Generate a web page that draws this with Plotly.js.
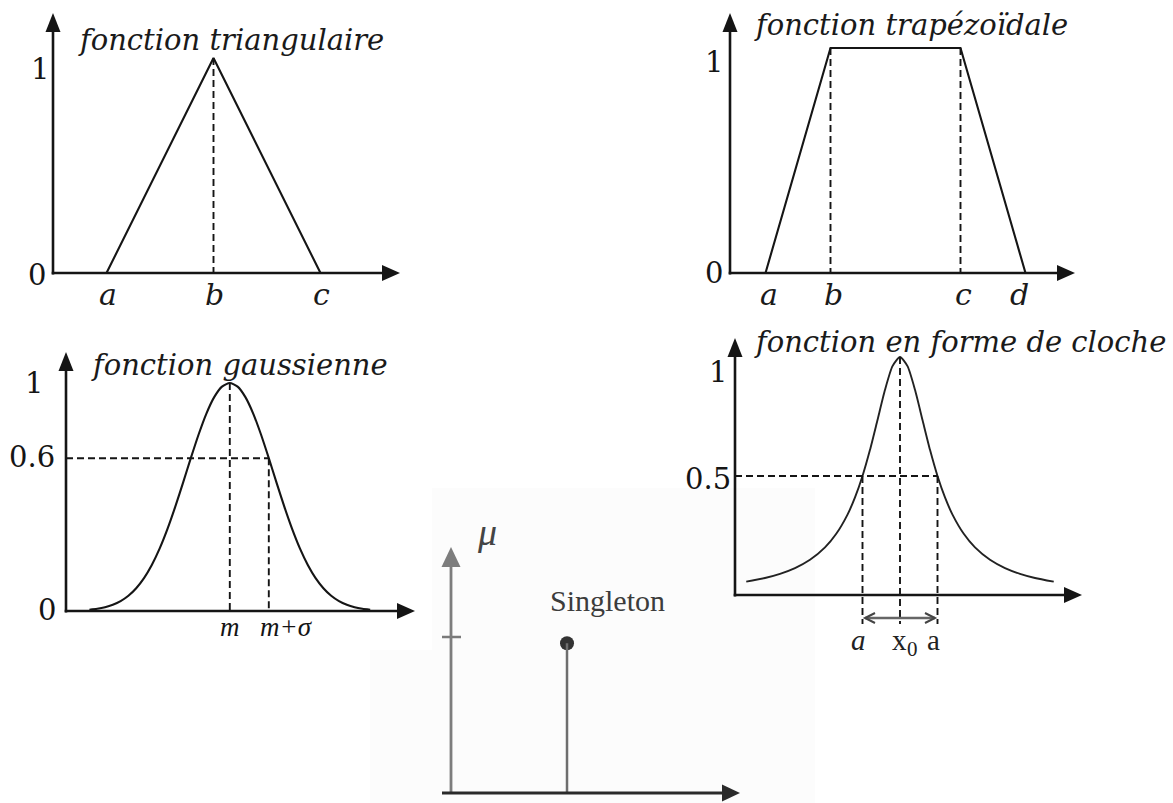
<!DOCTYPE html>
<html><head><meta charset="utf-8">
<script src="https://cdn.plot.ly/plotly-3.0.1.min.js"></script>
<style>html,body{margin:0;padding:0;background:#fff}</style>
</head><body><div id="chart" style="width:1173px;height:803px"></div>
<script>
// ---------- data ----------
const triX = [1, 3, 5];
const triY = [0, 1, 0];
const triLabels = ['a', 'b', 'c'];

const trapX = [1, 3, 7, 9];
const trapY = [0, 1, 1, 0];
const trapLabels = ['a', 'b', 'c', 'd'];

const gaussX = [0.6,0.8,1.0,1.2,1.4,1.6,1.8,2.0,2.2,2.4,2.6,2.8,3.0,3.2,3.4,3.6,3.8,4.0,4.2,4.4,4.6,4.8,5.0,5.2,5.4,5.6,5.8,6.0,6.2,6.4,6.6,6.8,7.0,7.2,7.4,7.6,7.8];
const gaussY = [.0056,.0098,.0166,.0273,.0434,.0669,.0999,.1443,.2019,.2736,.3592,.4566,.5621,.6703,.7741,.8659,.9380,.9841,1,.9841,.9380,.8659,.7741,.6703,.5621,.4566,.3592,.2736,.2019,.1443,.0999,.0669,.0434,.0273,.0166,.0098,.0056];
const gaussM = 4.2, gaussMS = 5.2, gaussLevel = 0.67;
const gaussTicks = ['1', '0.6', '0'];

const bellX = [0.3,0.8,1.2,1.6,2.0,2.4,2.7,3.0,3.2,3.4,3.6,3.8,4.0,4.2,4.4,4.6,4.8,5.0,5.2,5.4,5.6,5.8,6.1,6.4,6.8,7.2,7.6,8.0,8.5];
const bellY = [.0561,.0716,.0890,.1131,.1479,.2,.2571,.3378,.4098,.5,.6098,.7353,.8621,.9615,1,.9615,.8621,.7353,.6098,.5,.4098,.3378,.2571,.2,.1479,.1131,.0890,.0716,.0561];
const bellLeft = 3.4, bellCenter = 4.4, bellRight = 5.4, bellLevel = 0.5;
const bellTicks = ['1', '0.5'];

const singletonX = [3];
const singletonY = [0.96];

const titles = ['fonction triangulaire', 'fonction trapézoïdale', 'fonction gaussienne', 'fonction en forme de cloche'];

// ---------- geometry ----------
const W = 1173, H = 803;
const P = [
  {ox: 53,  oy: 273, sx: 53.5, sy: 215},
  {ox: 733, oy: 273, sx: 32.5, sy: 225},
  {ox: 66,  oy: 611, sx: 39,   sy: 228},
  {ox: 735, oy: 595, sx: 37.5, sy: 238},
  {ox: 451, oy: 793, sx: 38.67, sy: 156}
];
const ax = i => i === 0 ? 'x' : 'x' + (i + 1);
const ay = i => i === 0 ? 'y' : 'y' + (i + 1);
const dy = (i, p) => (P[i].oy - p) / P[i].sy; // pixel -> data y

const layout = {
  width: W, height: H, margin: {l: 0, r: 0, t: 0, b: 0},
  paper_bgcolor: '#fff', plot_bgcolor: 'rgba(0,0,0,0)',
  showlegend: false, shapes: [], annotations: []
};
P.forEach((p, i) => {
  const k = i === 0 ? '' : String(i + 1);
  layout['xaxis' + k] = {domain: [0, 1], range: [(0 - p.ox) / p.sx, (W - p.ox) / p.sx], visible: false, fixedrange: true, anchor: ay(i)};
  layout['yaxis' + k] = {domain: [0, 1], range: [(p.oy - H) / p.sy, p.oy / p.sy], visible: false, fixedrange: true, anchor: ax(i)};
});
// pixel frame for the drawn axes
layout.xaxis6 = {domain: [0, 1], range: [0, W], visible: false, fixedrange: true, anchor: 'y6'};
layout.yaxis6 = {domain: [0, 1], range: [H, 0], visible: false, fixedrange: true, anchor: 'x6'};

const black = '#151515';
const line = (i, x, y, extra) => Object.assign({type: 'scatter', mode: 'lines', x, y, xaxis: ax(i), yaxis: ay(i), hoverinfo: 'skip', cliponaxis: false, line: {color: black, width: 2.1}}, extra || {});
const data = [
  line(0, triX, triY),
  line(1, trapX, trapY),
  line(2, gaussX, gaussY, {line: {color: black, width: 2.1, shape: 'spline', smoothing: 0.6}}),
  line(3, bellX, bellY, {line: {color: '#222', width: 1.9, shape: 'spline', smoothing: 0.6}}),
  {type: 'scatter', mode: 'markers', x: singletonX, y: singletonY, xaxis: 'x5', yaxis: 'y5', hoverinfo: 'skip', cliponaxis: false, marker: {color: '#333', size: 14}}
];

// faint background of the singleton picture (paper-referenced, under everything)
const PX = v => v / W, PY = v => 1 - v / H;
layout.shapes.push({type: 'rect', xref: 'paper', yref: 'paper', x0: PX(432), x1: PX(815), y0: PY(803), y1: PY(488), fillcolor: '#fcfcfc', line: {width: 0}, layer: 'below'});
layout.shapes.push({type: 'rect', xref: 'paper', yref: 'paper', x0: PX(370), x1: PX(432), y0: PY(803), y1: PY(650), fillcolor: '#fcfcfc', line: {width: 0}, layer: 'below'});

const px = (extra) => Object.assign({xref: 'x6', yref: 'y6'}, extra);
const dash = (i, x0, y0, x1, y1) => layout.shapes.push({type: 'line', xref: ax(i), yref: ay(i), x0, y0, x1, y1, line: {color: black, width: 1.9, dash: '7px,4px'}});
dash(0, triX[1], 1, triX[1], 0);
dash(1, trapX[1], 1, trapX[1], 0);
dash(1, trapX[2], 1, trapX[2], 0);
dash(2, gaussM, 1, gaussM, 0);
dash(2, 0, gaussLevel, gaussMS, gaussLevel);
dash(2, gaussMS, gaussLevel, gaussMS, 0);
const below = dy(3, 624);
dash(3, bellLeft, bellLevel, bellLeft, below);
dash(3, bellCenter, 1, bellCenter, below);
dash(3, bellRight, bellLevel, bellRight, below);
dash(3, 0, bellLevel, bellRight, bellLevel);

// singleton stem and tick
layout.shapes.push({type: 'line', xref: 'x5', yref: 'y5', x0: singletonX[0], y0: 0, x1: singletonX[0], y1: singletonY[0], line: {color: '#6e6e6e', width: 2.5}});
layout.shapes.push(px({type: 'line', x0: 442, x1: 461, y0: 637, y1: 637, line: {color: '#7a7a7a', width: 2.5}}));

// axes with filled arrowheads (pixel frame)
function axisUp(x, y0, tip, color, w, hw, hl) {
  layout.shapes.push(px({type: 'line', x0: x, x1: x, y0: y0, y1: tip + hl - 1, line: {color, width: w}}));
  layout.shapes.push(px({type: 'path', path: `M${x},${tip} L${x - hw},${tip + hl} L${x + hw},${tip + hl} Z`, fillcolor: color, line: {width: 0}}));
}
function axisRight(y, x0, tip, color, w, hw, hl) {
  layout.shapes.push(px({type: 'line', x0: x0, x1: tip - hl + 1, y0: y, y1: y, line: {color, width: w}}));
  layout.shapes.push(px({type: 'path', path: `M${tip},${y} L${tip - hl},${y - hw} L${tip - hl},${y + hw} Z`, fillcolor: color, line: {width: 0}}));
}
axisUp(53, 274.5, 13, black, 2.6, 7.5, 19); axisRight(273, 51.7, 400, black, 2.6, 8, 18);
axisUp(730, 274.5, 13, black, 2.6, 7.5, 19); axisRight(273, 728.7, 1075, black, 2.6, 8, 18);
axisUp(66, 612.5, 352, black, 2.6, 7.5, 19); axisRight(611, 64.7, 415, black, 2.6, 8, 18);
axisUp(735, 596.5, 338, black, 2.6, 7.5, 19); axisRight(595, 733.7, 1082, black, 2.6, 8, 18);
axisUp(451, 793, 547, '#7d7d7d', 2.8, 9.5, 20); axisRight(793, 442, 740, '#2a2a2a', 2.8, 8.5, 18);

// double arrow a <-> a
const ya = 618;
layout.shapes.push(px({type: 'line', x0: 865, x1: 935, y0: ya, y1: ya, line: {color: '#666', width: 2.4}}));
layout.shapes.push(px({type: 'path', path: `M875,${ya - 5} L865,${ya} L875,${ya + 5}`, line: {color: '#444', width: 2}}));
layout.shapes.push(px({type: 'path', path: `M925,${ya - 5} L935,${ya} L925,${ya + 5}`, line: {color: '#444', width: 2}}));

// text
const num = {family: 'DejaVu Serif', size: 29, color: black};
const ital = {family: 'DejaVu Serif', size: 29, color: '#1a1a1a'};
const txt = (text, x, y, font, xanchor, xref, pad) => layout.annotations.push({text, xref: xref || 'x6', yref: 'y6', x, y, xanchor: xanchor || 'center', yanchor: 'middle', showarrow: false, font, borderpad: pad === undefined ? 1 : pad, borderwidth: pad === undefined ? 1 : 0});

txt('<i>' + titles[0] + '</i>', 76, 40, ital, 'left');
txt('<i>' + titles[1] + '</i>', 752, 25, ital, 'left');
txt('<i>' + titles[2] + '</i>', 89, 365, ital, 'left');
txt('<i>' + titles[3] + '</i>', 752, 342, ital, 'left');

txt('1', 40, 69, num); txt('0', 37, 275, num);
txt('1', 714, 62, num); txt('0', 714, 273, num);
txt(gaussTicks[0], 34, 383, num); txt(gaussTicks[1], 32, 457, num); txt(gaussTicks[2], 47, 610, num);
txt(bellTicks[0], 718, 372, num); txt(bellTicks[1], 733, 479, num, 'right');

const lab = {family: 'DejaVu Serif', size: 30, color: '#1a1a1a'};
triLabels.forEach((t, k) => txt('<i>' + t + '</i>', triX[k] + 0.02, 294, lab, 'center', 'x'));
trapLabels.forEach((t, k) => txt('<i>' + t + '</i>', trapX[k] + (k === 3 ? -0.2 : 0.1), 294, lab, 'center', 'x2'));

const tms = {family: 'Liberation Serif', size: 27, color: black};
txt('<i>m</i>', gaussM, 627, tms, 'center', 'x3');
txt('<i>m+σ</i>', gaussMS + 0.45, 627, tms, 'center', 'x3');

const bl = {family: 'Liberation Serif', size: 29, color: '#222'};
txt('<i>a</i>', bellLeft - 0.12, 640, bl, 'center', 'x4');
txt('x', 907, 640, bl, 'right', 'x6', 0);
txt('0', 907, 649, {family: 'Liberation Serif', size: 21, color: '#222'}, 'left', 'x6', 0);
txt('a', bellRight - 0.1, 640, bl, 'center', 'x4', 0);

txt('<i>μ</i>', 487, 532, {family: 'Liberation Serif', size: 38, color: '#444'});
txt('Singleton', 548, 600, {family: 'Liberation Serif', size: 30, color: '#3c3c3c'}, 'left');

Plotly.newPlot('chart', data, layout, {displayModeBar: false, staticPlot: true});
</script></body></html>
